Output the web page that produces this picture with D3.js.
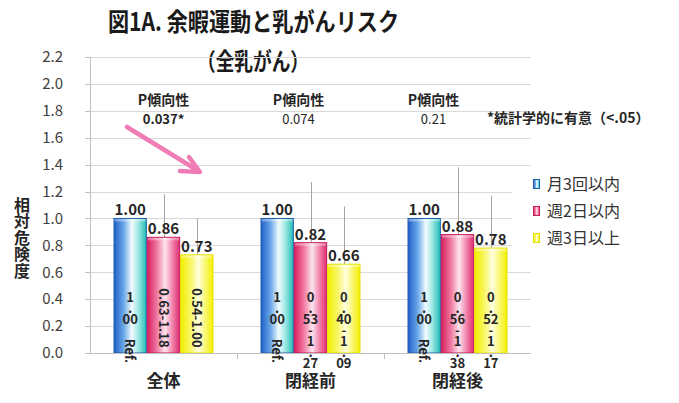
<!DOCTYPE html>
<html>
<head>
<meta charset="utf-8">
<script src="https://cdn.jsdelivr.net/npm/d3@7"></script>
<style>
body { margin: 0; background: #fff; }
svg { font-family: "Noto Sans CJK JP", "Noto Sans", sans-serif; }
.grid { stroke: #d9d9d9; stroke-width: 1; }
.axis { stroke: #bfbfbf; stroke-width: 1; }
.ticklabel { font-size: 15px; fill: #404040; }
.errbar { stroke: #a6a6a6; stroke-width: 1; }
.value { font-size: 15px; font-weight: bold; fill: #262626; }
.inlabel { font-size: 13px; font-weight: bold; fill: #262626; }
.catlabel { font-size: 17px; font-weight: bold; fill: #262626; }
.ptext { font-size: 14px; font-weight: bold; fill: #262626; }
.pval { font-size: 13px; fill: #262626; }
.legendtext { font-size: 16px; fill: #333; }
</style>
</head>
<body>
<svg id="chart" width="679" height="403"></svg>
<script>
const categories = ["全体", "閉経前", "閉経後"];
const seriesNames = ["月3回以内", "週2日以内", "週3日以上"];
const rr     = [[1.00, 0.86, 0.73], [1.00, 0.82, 0.66], [1.00, 0.88, 0.78]];
const ciLow  = [[1.00, 0.63, 0.54], [1.00, 0.53, 0.40], [1.00, 0.56, 0.52]];
const ciHigh = [[1.00, 1.18, 1.00], [1.00, 1.27, 1.09], [1.00, 1.38, 1.17]];
const labelMode = ["rotate", "wrap", "wrap"];
const pTrend = ["0.037*", "0.074", "0.21"];
const yTicks = [0, 0.2, 0.4, 0.6, 0.8, 1.0, 1.2, 1.4, 1.6, 1.8, 2.0, 2.2];

const svg = d3.select("#chart");
const plotL = 90, plotR = 531, plotT = 57, plotB = 353;

const y = d3.scaleLinear([0, 2.2], [plotB, plotT]);
const x0 = d3.scaleBand(categories, [plotL, plotR]);
const x1 = d3.scaleBand(d3.range(3), [23.5, 123.5]).padding(0);

// gradients
const defs = svg.append("defs");
const grads = [
    {stops: [[0, "#1f5fc8"], [0.3, "#6aa8e8"], [0.55, "#f2fbff"], [0.75, "#9ee8e4"], [1, "#22bdb4"]], stroke: "#1f5cb0"},
    {stops: [[0, "#d81e5c"], [0.3, "#f07aa4"], [0.55, "#fde4ee"], [0.8, "#f07aa4"], [1, "#de2f70"]], stroke: "#c8195a"},
    {stops: [[0, "#f2ee00"], [0.3, "#f8f660"], [0.55, "#ffffe0"], [0.8, "#f8f660"], [1, "#f4f000"]], stroke: "#e6e000"}
];
grads.forEach((g, i) => {
    const lg = defs.append("linearGradient").attr("id", "g" + i)
        .attr("x1", 0).attr("x2", 1).attr("y1", 0).attr("y2", 0);
    g.stops.forEach(s => lg.append("stop").attr("offset", s[0]).attr("stop-color", s[1]));
});

// title
svg.append("text").text("図1A. 余暇運動と乳がんリスク")
    .attr("x", 108).attr("y", 31)
    .attr("textLength", 291).attr("lengthAdjust", "spacingAndGlyphs")
    .attr("font-size", 25).attr("font-weight", "bold").attr("fill", "#1a1a1a");
svg.append("text").text("（全乳がん）")
    .attr("x", 197).attr("y", 70)
    .attr("textLength", 112).attr("lengthAdjust", "spacingAndGlyphs")
    .attr("font-size", 24).attr("font-weight", "bold").attr("fill", "#1a1a1a");

// gridlines
yTicks.filter(d => d > 0).forEach(t => {
    svg.append("line").attr("class", "grid")
        .attr("x1", plotL).attr("x2", plotR)
        .attr("y1", Math.round(y(t)) + 0.5).attr("y2", Math.round(y(t)) + 0.5);
});

// y axis
svg.append("line").attr("class", "axis")
    .attr("x1", plotL + 0.5).attr("x2", plotL + 0.5).attr("y1", y(2.2)).attr("y2", y(0));
yTicks.forEach(t => {
    svg.append("line").attr("class", "axis")
        .attr("x1", plotL - 5).attr("x2", plotL)
        .attr("y1", Math.round(y(t)) + 0.5).attr("y2", Math.round(y(t)) + 0.5);
    svg.append("text").attr("class", "ticklabel")
        .text(t.toFixed(1))
        .attr("x", 63).attr("y", y(t))
        .attr("dy", "0.35em").attr("text-anchor", "end");
});

// y label, stacked in one text
const ylab = svg.append("text")
    .attr("font-size", 16).attr("font-weight", "bold").attr("fill", "#262626")
    .attr("text-anchor", "middle");
"相対危険度".split("").forEach((c, i) => {
    ylab.append("tspan").text(c).attr("x", 22)
        .attr("y", 205 + i * 16.6).attr("dy", "0.35em");
});

// error bars (behind bars)
categories.forEach((c, ci) => {
    d3.range(3).forEach(si => {
        if (ciLow[ci][si] === ciHigh[ci][si]) return;
        const cx = Math.round(x0(c) + x1(si) + x1.bandwidth() / 2) + 0.5;
        svg.append("line").attr("class", "errbar")
            .attr("x1", cx).attr("x2", cx)
            .attr("y1", y(ciLow[ci][si])).attr("y2", y(ciHigh[ci][si]));
    });
});

// bars
categories.forEach((c, ci) => {
    d3.range(3).forEach(si => {
        const bx = x0(c) + x1(si);
        const bw = x1.bandwidth();
        svg.append("rect")
            .attr("x", bx + 0.5).attr("y", y(rr[ci][si]))
            .attr("width", bw - 1).attr("height", y(0) - y(rr[ci][si]))
            .attr("fill", "url(#g" + si + ")")
            .attr("stroke", grads[si].stroke).attr("stroke-width", 1);
        svg.append("rect")
            .attr("x", bx + 1).attr("y", y(rr[ci][si]) + 0.5)
            .attr("width", bw - 2).attr("height", 2.5)
            .attr("fill", "#fff").attr("opacity", 0.35);
    });
});

// x axis
svg.append("line").attr("class", "axis")
    .attr("x1", plotL).attr("x2", plotR).attr("y1", y(0) + 0.5).attr("y2", y(0) + 0.5);
categories.forEach((c, ci) => {
    if (ci === 0) return;
    svg.append("line").attr("class", "axis")
        .attr("x1", Math.round(x0(c)) + 0.5).attr("x2", Math.round(x0(c)) + 0.5)
        .attr("y1", y(0)).attr("y2", y(0) + 6);
});
categories.forEach(c => {
    svg.append("text").attr("class", "catlabel").text(c)
        .attr("x", x0(c) + x0.bandwidth() / 2).attr("y", 381)
        .attr("dy", "0.35em").attr("text-anchor", "middle");
});

// value labels
categories.forEach((c, ci) => {
    d3.range(3).forEach(si => {
        svg.append("text").attr("class", "value")
            .text(rr[ci][si].toFixed(2))
            .attr("x", x0(c) + x1(si) + x1.bandwidth() / 2)
            .attr("y", y(rr[ci][si]) - 3)
            .attr("text-anchor", "middle");
    });
});

// CI labels inside bars (Excel-style wrapped pieces in one text)
function wrapped(parts, cx, cy0) {
    const t = svg.append("text").attr("class", "inlabel").attr("text-anchor", "middle");
    parts.forEach((p, i) => {
        t.append("tspan").text(p).attr("x", cx)
            .attr("y", cy0 + i * 11).attr("dy", "0.35em");
    });
    return t;
}
function rotated(txt, cx, cy) {
    return svg.append("text").attr("class", "inlabel").text(txt)
        .attr("x", cx).attr("y", cy)
        .attr("dy", "0.35em").attr("text-anchor", "middle")
        .attr("transform", `rotate(90,${cx},${cy})`);
}
categories.forEach((c, ci) => {
    d3.range(3).forEach(si => {
        const cx = x0(c) + x1(si) + x1.bandwidth() / 2;
        const lo = ciLow[ci][si].toFixed(2), hi = ciHigh[ci][si].toFixed(2);
        if (si === 0) {
            wrapped(lo.match(/\d+|[.\-]/g), cx, y(0) - 56);
            rotated("Ref.", cx - 1, y(0) - 2);
        } else if (labelMode[ci] === "rotate") {
            rotated(lo + "-" + hi, cx, y(0) - 35);
        } else {
            wrapped((lo + "-" + hi).match(/\d+|[.\-]/g), cx, y(0) - 56);
        }
    });
});

// P trend annotations
categories.forEach((c, ci) => {
    const cx = x0(c) + x0.bandwidth() / 2 - ci * 12;
    svg.append("text").attr("class", "ptext").text("P傾向性")
        .attr("x", cx).attr("y", 100).attr("dy", "0.35em").attr("text-anchor", "middle");
    svg.append("text").attr("class", "pval").text(pTrend[ci])
        .attr("x", cx).attr("y", 119).attr("dy", "0.35em").attr("text-anchor", "middle")
        .attr("font-weight", ci === 0 ? "bold" : "normal");
});
svg.append("text").attr("class", "ptext").text("*統計学的に有意（<.05）")
    .attr("x", 487).attr("y", 118).attr("dy", "0.35em")
    .attr("font-size", 13);

// pink arrow
const ax1 = x0(categories[0]) + 37, ay1 = y(1.68);
const ax2 = x0(categories[0]) + 110, ay2 = y(1.345);
svg.append("line")
    .attr("x1", ax1).attr("y1", ay1).attr("x2", ax2 - 3).attr("y2", ay2 - 2)
    .attr("stroke", "#f07cb6").attr("stroke-width", 4.5).attr("stroke-linecap", "round");
svg.append("path")
    .attr("d", d3.line()([[ax2 - 11, ay2 - 15], [ax2, ay2], [ax2 - 20, ay2 - 1]]))
    .attr("fill", "none").attr("stroke", "#f07cb6").attr("stroke-width", 4.5)
    .attr("stroke-linecap", "round").attr("stroke-linejoin", "round");

// legend
svg.append("rect").attr("x", 512).attr("y", 170).attr("width", 135).attr("height", 88).attr("fill", "#fff");
seriesNames.forEach((s, si) => {
    const ly = 184 + si * 27;
    svg.append("rect")
        .attr("x", 533.5).attr("y", ly - 4.5).attr("width", 6).attr("height", 9)
        .attr("fill", "url(#g" + si + ")").attr("stroke", grads[si].stroke);
    svg.append("text").attr("class", "legendtext").text(s)
        .attr("x", 547).attr("y", ly).attr("dy", "0.35em");
});
</script>
</body>
</html>
